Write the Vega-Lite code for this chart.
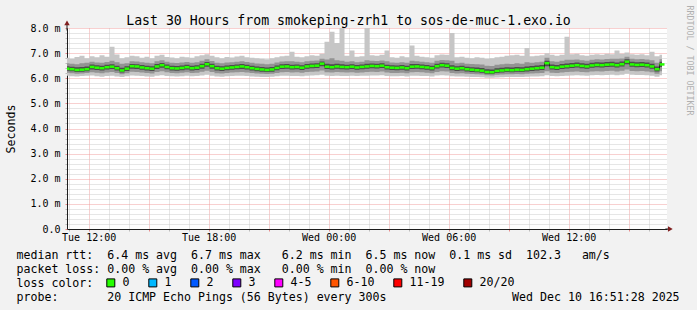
{
"$schema": "https://vega.github.io/schema/vega-lite/v6.json",
"width": 600, "height": 201,
"autosize": {"type": "none"},
"padding": {"left": 67, "top": 28, "right": 30, "bottom": 81},
"background": "#f2f2f2",
"config": {
 "font": "DejaVu Sans Mono",
 "view": {"stroke": null, "fill": "#ffffff"},
 "axis": {"labelFont": "DejaVu Sans Mono", "titleFont": "DejaVu Sans Mono", "labelColor": "#000000", "titleColor": "#000000", "titleFontWeight": "normal"}
},
"data": {"values": [
{"t":"2025-12-09T10:55","m":6.38,"l":6.10,"c":6.22,"a":6.30,"b":6.48,"d":6.60,"h":6.82},
{"t":"2025-12-09T11:10","m":6.36,"l":6.08,"c":6.20,"a":6.28,"b":6.46,"d":6.58,"h":6.78},
{"t":"2025-12-09T11:25","m":6.33,"l":6.07,"c":6.18,"a":6.25,"b":6.44,"d":6.56,"h":6.85},
{"t":"2025-12-09T11:40","m":6.34,"l":6.09,"c":6.19,"a":6.26,"b":6.45,"d":6.60,"h":6.90},
{"t":"2025-12-09T11:55","m":6.36,"l":6.10,"c":6.21,"a":6.28,"b":6.47,"d":6.62,"h":6.80},
{"t":"2025-12-09T12:10","m":6.45,"l":6.11,"c":6.24,"a":6.35,"b":6.55,"d":6.66,"h":6.88},
{"t":"2025-12-09T12:25","m":6.42,"l":6.08,"c":6.22,"a":6.33,"b":6.52,"d":6.63,"h":6.84},
{"t":"2025-12-09T12:40","m":6.40,"l":6.06,"c":6.20,"a":6.31,"b":6.50,"d":6.62,"h":6.92},
{"t":"2025-12-09T12:55","m":6.44,"l":6.09,"c":6.23,"a":6.35,"b":6.54,"d":6.65,"h":6.86},
{"t":"2025-12-09T13:10","m":6.46,"l":6.10,"c":6.25,"a":6.37,"b":6.56,"d":6.70,"h":7.25},
{"t":"2025-12-09T13:25","m":6.40,"l":6.07,"c":6.21,"a":6.31,"b":6.50,"d":6.64,"h":6.95},
{"t":"2025-12-09T13:40","m":6.31,"l":6.05,"c":6.16,"a":6.23,"b":6.42,"d":6.58,"h":6.80},
{"t":"2025-12-09T13:55","m":6.38,"l":6.08,"c":6.20,"a":6.29,"b":6.48,"d":6.60,"h":6.84},
{"t":"2025-12-09T14:10","m":6.48,"l":6.11,"c":6.26,"a":6.38,"b":6.57,"d":6.68,"h":6.90},
{"t":"2025-12-09T14:25","m":6.47,"l":6.10,"c":6.25,"a":6.37,"b":6.56,"d":6.67,"h":6.88},
{"t":"2025-12-09T14:40","m":6.43,"l":6.09,"c":6.23,"a":6.34,"b":6.53,"d":6.64,"h":6.82},
{"t":"2025-12-09T14:55","m":6.40,"l":6.07,"c":6.21,"a":6.31,"b":6.50,"d":6.62,"h":6.86},
{"t":"2025-12-09T15:10","m":6.38,"l":6.06,"c":6.19,"a":6.29,"b":6.48,"d":6.60,"h":6.80},
{"t":"2025-12-09T15:25","m":6.47,"l":6.10,"c":6.25,"a":6.37,"b":6.57,"d":6.68,"h":6.90},
{"t":"2025-12-09T15:40","m":6.52,"l":6.12,"c":6.28,"a":6.42,"b":6.61,"d":6.72,"h":6.94},
{"t":"2025-12-09T15:55","m":6.45,"l":6.09,"c":6.24,"a":6.36,"b":6.55,"d":6.66,"h":6.85},
{"t":"2025-12-09T16:10","m":6.40,"l":6.08,"c":6.21,"a":6.31,"b":6.50,"d":6.62,"h":6.83},
{"t":"2025-12-09T16:25","m":6.39,"l":6.07,"c":6.20,"a":6.30,"b":6.49,"d":6.61,"h":6.80},
{"t":"2025-12-09T16:40","m":6.41,"l":6.08,"c":6.22,"a":6.32,"b":6.51,"d":6.63,"h":6.86},
{"t":"2025-12-09T16:55","m":6.44,"l":6.10,"c":6.24,"a":6.35,"b":6.54,"d":6.65,"h":6.84},
{"t":"2025-12-09T17:10","m":6.40,"l":6.08,"c":6.21,"a":6.31,"b":6.50,"d":6.62,"h":6.82},
{"t":"2025-12-09T17:25","m":6.42,"l":6.09,"c":6.22,"a":6.33,"b":6.52,"d":6.64,"h":6.88},
{"t":"2025-12-09T17:40","m":6.48,"l":6.11,"c":6.26,"a":6.38,"b":6.58,"d":6.70,"h":6.92},
{"t":"2025-12-09T17:55","m":6.56,"l":6.14,"c":6.30,"a":6.46,"b":6.65,"d":6.76,"h":6.96},
{"t":"2025-12-09T18:10","m":6.48,"l":6.10,"c":6.25,"a":6.38,"b":6.58,"d":6.69,"h":6.90},
{"t":"2025-12-09T18:25","m":6.40,"l":6.07,"c":6.20,"a":6.31,"b":6.50,"d":6.62,"h":6.84},
{"t":"2025-12-09T18:40","m":6.38,"l":6.06,"c":6.19,"a":6.29,"b":6.48,"d":6.60,"h":6.80},
{"t":"2025-12-09T18:55","m":6.41,"l":6.08,"c":6.21,"a":6.32,"b":6.51,"d":6.63,"h":6.85},
{"t":"2025-12-09T19:10","m":6.43,"l":6.09,"c":6.23,"a":6.34,"b":6.53,"d":6.64,"h":6.83},
{"t":"2025-12-09T19:25","m":6.45,"l":6.10,"c":6.24,"a":6.36,"b":6.55,"d":6.66,"h":6.87},
{"t":"2025-12-09T19:40","m":6.47,"l":6.10,"c":6.25,"a":6.37,"b":6.57,"d":6.68,"h":6.90},
{"t":"2025-12-09T19:55","m":6.44,"l":6.09,"c":6.23,"a":6.35,"b":6.54,"d":6.65,"h":6.84},
{"t":"2025-12-09T20:10","m":6.40,"l":6.07,"c":6.21,"a":6.31,"b":6.50,"d":6.62,"h":6.82},
{"t":"2025-12-09T20:25","m":6.37,"l":6.06,"c":6.19,"a":6.28,"b":6.47,"d":6.59,"h":6.80},
{"t":"2025-12-09T20:40","m":6.35,"l":6.05,"c":6.18,"a":6.26,"b":6.45,"d":6.58,"h":6.78},
{"t":"2025-12-09T20:55","m":6.33,"l":6.05,"c":6.17,"a":6.25,"b":6.43,"d":6.56,"h":6.76},
{"t":"2025-12-09T21:10","m":6.35,"l":6.06,"c":6.18,"a":6.26,"b":6.45,"d":6.58,"h":6.80},
{"t":"2025-12-09T21:25","m":6.41,"l":6.08,"c":6.21,"a":6.32,"b":6.51,"d":6.63,"h":6.84},
{"t":"2025-12-09T21:40","m":6.46,"l":6.10,"c":6.24,"a":6.37,"b":6.56,"d":6.67,"h":6.88},
{"t":"2025-12-09T21:55","m":6.47,"l":6.10,"c":6.25,"a":6.38,"b":6.57,"d":6.68,"h":6.90},
{"t":"2025-12-09T22:10","m":6.44,"l":6.09,"c":6.23,"a":6.35,"b":6.54,"d":6.68,"h":7.05},
{"t":"2025-12-09T22:25","m":6.45,"l":6.09,"c":6.24,"a":6.36,"b":6.55,"d":6.66,"h":6.86},
{"t":"2025-12-09T22:40","m":6.42,"l":6.08,"c":6.22,"a":6.33,"b":6.52,"d":6.64,"h":6.84},
{"t":"2025-12-09T22:55","m":6.47,"l":6.10,"c":6.25,"a":6.38,"b":6.57,"d":6.68,"h":6.88},
{"t":"2025-12-09T23:10","m":6.49,"l":6.11,"c":6.26,"a":6.40,"b":6.59,"d":6.70,"h":6.92},
{"t":"2025-12-09T23:25","m":6.50,"l":6.12,"c":6.27,"a":6.41,"b":6.60,"d":6.71,"h":6.90},
{"t":"2025-12-09T23:40","m":6.58,"l":6.14,"c":6.31,"a":6.48,"b":6.67,"d":6.78,"h":6.98},
{"t":"2025-12-09T23:55","m":6.46,"l":6.10,"c":6.24,"a":6.37,"b":6.58,"d":6.75,"h":7.45},
{"t":"2025-12-10T00:10","m":6.44,"l":6.09,"c":6.23,"a":6.35,"b":6.56,"d":6.80,"h":7.85},
{"t":"2025-12-10T00:25","m":6.47,"l":6.10,"c":6.25,"a":6.38,"b":6.58,"d":6.72,"h":7.40},
{"t":"2025-12-10T00:40","m":6.45,"l":6.09,"c":6.24,"a":6.36,"b":6.56,"d":6.70,"h":8.20},
{"t":"2025-12-10T00:55","m":6.44,"l":6.09,"c":6.23,"a":6.35,"b":6.54,"d":6.66,"h":6.90},
{"t":"2025-12-10T01:10","m":6.46,"l":6.10,"c":6.24,"a":6.37,"b":6.56,"d":6.68,"h":7.10},
{"t":"2025-12-10T01:25","m":6.43,"l":6.09,"c":6.22,"a":6.34,"b":6.53,"d":6.64,"h":6.86},
{"t":"2025-12-10T01:40","m":6.45,"l":6.10,"c":6.23,"a":6.36,"b":6.55,"d":6.66,"h":6.88},
{"t":"2025-12-10T01:55","m":6.47,"l":6.10,"c":6.25,"a":6.38,"b":6.58,"d":6.72,"h":8.40},
{"t":"2025-12-10T02:10","m":6.49,"l":6.11,"c":6.26,"a":6.40,"b":6.59,"d":6.70,"h":6.92},
{"t":"2025-12-10T02:25","m":6.48,"l":6.11,"c":6.25,"a":6.39,"b":6.58,"d":6.69,"h":6.90},
{"t":"2025-12-10T02:40","m":6.50,"l":6.12,"c":6.27,"a":6.41,"b":6.60,"d":6.71,"h":6.94},
{"t":"2025-12-10T02:55","m":6.44,"l":6.09,"c":6.23,"a":6.35,"b":6.54,"d":6.68,"h":7.10},
{"t":"2025-12-10T03:10","m":6.42,"l":6.08,"c":6.21,"a":6.33,"b":6.52,"d":6.63,"h":6.84},
{"t":"2025-12-10T03:25","m":6.41,"l":6.08,"c":6.21,"a":6.32,"b":6.51,"d":6.62,"h":6.82},
{"t":"2025-12-10T03:40","m":6.43,"l":6.09,"c":6.22,"a":6.34,"b":6.53,"d":6.64,"h":6.88},
{"t":"2025-12-10T03:55","m":6.40,"l":6.07,"c":6.20,"a":6.31,"b":6.50,"d":6.62,"h":6.84},
{"t":"2025-12-10T04:10","m":6.46,"l":6.10,"c":6.24,"a":6.37,"b":6.57,"d":6.70,"h":7.30},
{"t":"2025-12-10T04:25","m":6.47,"l":6.10,"c":6.25,"a":6.38,"b":6.57,"d":6.68,"h":6.90},
{"t":"2025-12-10T04:40","m":6.45,"l":6.09,"c":6.24,"a":6.36,"b":6.55,"d":6.66,"h":6.86},
{"t":"2025-12-10T04:55","m":6.43,"l":6.09,"c":6.22,"a":6.34,"b":6.53,"d":6.64,"h":6.84},
{"t":"2025-12-10T05:10","m":6.40,"l":6.07,"c":6.20,"a":6.31,"b":6.50,"d":6.62,"h":6.82},
{"t":"2025-12-10T05:25","m":6.48,"l":6.11,"c":6.25,"a":6.39,"b":6.58,"d":6.70,"h":6.92},
{"t":"2025-12-10T05:40","m":6.52,"l":6.12,"c":6.28,"a":6.43,"b":6.62,"d":6.73,"h":6.95},
{"t":"2025-12-10T05:55","m":6.50,"l":6.11,"c":6.27,"a":6.41,"b":6.60,"d":6.72,"h":6.94},
{"t":"2025-12-10T06:10","m":6.41,"l":6.08,"c":6.21,"a":6.32,"b":6.52,"d":6.70,"h":7.80},
{"t":"2025-12-10T06:25","m":6.38,"l":6.07,"c":6.19,"a":6.29,"b":6.48,"d":6.60,"h":6.84},
{"t":"2025-12-10T06:40","m":6.40,"l":6.07,"c":6.20,"a":6.31,"b":6.50,"d":6.62,"h":6.86},
{"t":"2025-12-10T06:55","m":6.36,"l":6.06,"c":6.18,"a":6.27,"b":6.46,"d":6.58,"h":6.82},
{"t":"2025-12-10T07:10","m":6.34,"l":6.05,"c":6.17,"a":6.25,"b":6.44,"d":6.57,"h":6.80},
{"t":"2025-12-10T07:25","m":6.32,"l":6.05,"c":6.16,"a":6.24,"b":6.43,"d":6.56,"h":6.84},
{"t":"2025-12-10T07:40","m":6.30,"l":6.04,"c":6.15,"a":6.22,"b":6.41,"d":6.55,"h":6.82},
{"t":"2025-12-10T07:55","m":6.25,"l":6.02,"c":6.12,"a":6.18,"b":6.36,"d":6.50,"h":6.78},
{"t":"2025-12-10T08:10","m":6.24,"l":6.02,"c":6.11,"a":6.17,"b":6.35,"d":6.49,"h":6.80},
{"t":"2025-12-10T08:25","m":6.29,"l":6.03,"c":6.14,"a":6.21,"b":6.40,"d":6.54,"h":6.84},
{"t":"2025-12-10T08:40","m":6.31,"l":6.04,"c":6.15,"a":6.23,"b":6.42,"d":6.56,"h":6.86},
{"t":"2025-12-10T08:55","m":6.33,"l":6.05,"c":6.16,"a":6.25,"b":6.44,"d":6.58,"h":6.90},
{"t":"2025-12-10T09:10","m":6.32,"l":6.05,"c":6.16,"a":6.24,"b":6.43,"d":6.57,"h":6.92},
{"t":"2025-12-10T09:25","m":6.34,"l":6.05,"c":6.17,"a":6.26,"b":6.45,"d":6.60,"h":6.94},
{"t":"2025-12-10T09:40","m":6.33,"l":6.05,"c":6.16,"a":6.25,"b":6.44,"d":6.58,"h":6.90},
{"t":"2025-12-10T09:55","m":6.36,"l":6.06,"c":6.18,"a":6.27,"b":6.47,"d":6.64,"h":7.20},
{"t":"2025-12-10T10:10","m":6.38,"l":6.07,"c":6.19,"a":6.29,"b":6.49,"d":6.62,"h":6.88},
{"t":"2025-12-10T10:25","m":6.40,"l":6.07,"c":6.20,"a":6.31,"b":6.51,"d":6.64,"h":6.90},
{"t":"2025-12-10T10:40","m":6.42,"l":6.08,"c":6.21,"a":6.33,"b":6.53,"d":6.66,"h":6.92},
{"t":"2025-12-10T10:55","m":6.60,"l":6.12,"c":6.28,"a":6.48,"b":6.70,"d":6.82,"h":7.00},
{"t":"2025-12-10T11:10","m":6.44,"l":6.09,"c":6.22,"a":6.35,"b":6.55,"d":6.68,"h":6.94},
{"t":"2025-12-10T11:25","m":6.42,"l":6.08,"c":6.21,"a":6.33,"b":6.53,"d":6.66,"h":6.90},
{"t":"2025-12-10T11:40","m":6.46,"l":6.09,"c":6.23,"a":6.37,"b":6.57,"d":6.70,"h":6.94},
{"t":"2025-12-10T11:55","m":6.48,"l":6.10,"c":6.25,"a":6.39,"b":6.59,"d":6.74,"h":7.65},
{"t":"2025-12-10T12:10","m":6.50,"l":6.11,"c":6.26,"a":6.41,"b":6.61,"d":6.74,"h":6.96},
{"t":"2025-12-10T12:25","m":6.52,"l":6.12,"c":6.27,"a":6.43,"b":6.63,"d":6.75,"h":6.98},
{"t":"2025-12-10T12:40","m":6.49,"l":6.11,"c":6.25,"a":6.40,"b":6.60,"d":6.72,"h":6.92},
{"t":"2025-12-10T12:55","m":6.47,"l":6.10,"c":6.24,"a":6.38,"b":6.58,"d":6.70,"h":6.90},
{"t":"2025-12-10T13:10","m":6.51,"l":6.12,"c":6.27,"a":6.42,"b":6.62,"d":6.74,"h":6.94},
{"t":"2025-12-10T13:25","m":6.53,"l":6.13,"c":6.28,"a":6.44,"b":6.64,"d":6.76,"h":6.96},
{"t":"2025-12-10T13:40","m":6.52,"l":6.12,"c":6.27,"a":6.43,"b":6.63,"d":6.75,"h":6.94},
{"t":"2025-12-10T13:55","m":6.54,"l":6.13,"c":6.29,"a":6.45,"b":6.65,"d":6.77,"h":6.98},
{"t":"2025-12-10T14:10","m":6.55,"l":6.14,"c":6.30,"a":6.46,"b":6.66,"d":6.78,"h":6.96},
{"t":"2025-12-10T14:25","m":6.52,"l":6.12,"c":6.27,"a":6.43,"b":6.63,"d":6.78,"h":7.10},
{"t":"2025-12-10T14:40","m":6.56,"l":6.14,"c":6.30,"a":6.47,"b":6.67,"d":6.79,"h":6.98},
{"t":"2025-12-10T14:55","m":6.66,"l":6.18,"c":6.35,"a":6.56,"b":6.76,"d":6.86,"h":7.02},
{"t":"2025-12-10T15:10","m":6.55,"l":6.14,"c":6.29,"a":6.46,"b":6.66,"d":6.78,"h":6.96},
{"t":"2025-12-10T15:25","m":6.53,"l":6.13,"c":6.28,"a":6.44,"b":6.64,"d":6.76,"h":6.94},
{"t":"2025-12-10T15:40","m":6.54,"l":6.13,"c":6.29,"a":6.45,"b":6.65,"d":6.77,"h":6.96},
{"t":"2025-12-10T15:55","m":6.52,"l":6.12,"c":6.27,"a":6.43,"b":6.63,"d":6.75,"h":6.92},
{"t":"2025-12-10T16:10","m":6.47,"l":6.10,"c":6.24,"a":6.38,"b":6.58,"d":6.72,"h":7.05},
{"t":"2025-12-10T16:25","m":6.36,"l":6.06,"c":6.18,"a":6.27,"b":6.47,"d":6.62,"h":6.88},
{"t":"2025-12-10T16:40","m":6.55,"l":6.12,"c":6.28,"a":6.45,"b":6.66,"d":6.76,"h":6.94}
]},
"resolve": {"axis": {"x": "independent", "y": "independent"}},
"layer": [
 {
  "mark": {"type": "area", "interpolate": "step", "color": "#c6c6c6", "clip": true},
  "encoding": {
   "x": {"field": "t", "type": "temporal",
    "scale": {"domain": [{"year": 2025, "month": 12, "date": 9, "hours": 10, "minutes": 55}, {"year": 2025, "month": 12, "date": 10, "hours": 16, "minutes": 55}]},
    "axis": {
     "values": [
      {"year": 2025, "month": 12, "date": 9, "hours": 11}, {"year": 2025, "month": 12, "date": 9, "hours": 12}, {"year": 2025, "month": 12, "date": 9, "hours": 13},
      {"year": 2025, "month": 12, "date": 9, "hours": 14}, {"year": 2025, "month": 12, "date": 9, "hours": 15}, {"year": 2025, "month": 12, "date": 9, "hours": 16},
      {"year": 2025, "month": 12, "date": 9, "hours": 17}, {"year": 2025, "month": 12, "date": 9, "hours": 18}, {"year": 2025, "month": 12, "date": 9, "hours": 19},
      {"year": 2025, "month": 12, "date": 9, "hours": 20}, {"year": 2025, "month": 12, "date": 9, "hours": 21}, {"year": 2025, "month": 12, "date": 9, "hours": 22},
      {"year": 2025, "month": 12, "date": 9, "hours": 23}, {"year": 2025, "month": 12, "date": 10, "hours": 0}, {"year": 2025, "month": 12, "date": 10, "hours": 1},
      {"year": 2025, "month": 12, "date": 10, "hours": 2}, {"year": 2025, "month": 12, "date": 10, "hours": 3}, {"year": 2025, "month": 12, "date": 10, "hours": 4},
      {"year": 2025, "month": 12, "date": 10, "hours": 5}, {"year": 2025, "month": 12, "date": 10, "hours": 6}, {"year": 2025, "month": 12, "date": 10, "hours": 7},
      {"year": 2025, "month": 12, "date": 10, "hours": 8}, {"year": 2025, "month": 12, "date": 10, "hours": 9}, {"year": 2025, "month": 12, "date": 10, "hours": 10},
      {"year": 2025, "month": 12, "date": 10, "hours": 11}, {"year": 2025, "month": 12, "date": 10, "hours": 12}, {"year": 2025, "month": 12, "date": 10, "hours": 13},
      {"year": 2025, "month": 12, "date": 10, "hours": 14}, {"year": 2025, "month": 12, "date": 10, "hours": 15}, {"year": 2025, "month": 12, "date": 10, "hours": 16}
     ],
     "tickCount": 60,
     "format": "%a %H:%M",
     "labelExpr": "round(datum.index * 29) % 6 == 1 ? datum.label : ''",
     "labelFontSize": 10, "labelPadding": 1,
     "tickSize": 2,
     "tickColor": {"condition": {"test": "round(datum.index * 29) % 3 == 1", "value": "#e88a8a"}, "value": "#bbbbbb"},
     "domainColor": "#1f1f1f",
     "grid": true, "gridDash": [1, 1],
     "gridColor": {"condition": {"test": "round(datum.index * 29) % 3 == 1", "value": "#f0a0a0"}, "value": "#cdcdcd"},
     "title": ["median\u00a0rtt:\u00a0\u00a06.4\u00a0ms\u00a0avg\u00a0\u00a06.7\u00a0ms\u00a0max\u00a0\u00a0\u00a06.2\u00a0ms\u00a0min\u00a0\u00a06.5\u00a0ms\u00a0now\u00a0\u00a00.1\u00a0ms\u00a0sd\u00a0\u00a0102.3\u00a0\u00a0\u00a0am/s",
               "packet\u00a0loss:\u00a00.00\u00a0%\u00a0avg\u00a0\u00a00.00\u00a0%\u00a0max\u00a0\u00a0\u00a00.00\u00a0%\u00a0min\u00a0\u00a00.00\u00a0%\u00a0now",
               "loss\u00a0color:",
               "probe:\u00a0\u00a0\u00a0\u00a0\u00a0\u00a0\u00a020\u00a0ICMP\u00a0Echo\u00a0Pings\u00a0(56\u00a0Bytes)\u00a0every\u00a0300s\u00a0\u00a0\u00a0\u00a0\u00a0\u00a0\u00a0\u00a0\u00a0\u00a0\u00a0\u00a0\u00a0\u00a0\u00a0\u00a0\u00a0\u00a0Wed\u00a0Dec\u00a010\u00a016:51:28\u00a02025"],
     "titleAlign": "left", "titleAnchor": "start", "titleX": -51, "titleY": 29, "titleBaseline": "alphabetic",
     "titleFontSize": 11.6, "titleLineHeight": 14, "titleAngle": 0
    }},
   "y": {"field": "l", "type": "quantitative",
    "scale": {"domain": [0, 8], "nice": false},
    "axis": {
     "values": [0, 0.2, 0.4, 0.6, 0.8, 1, 1.2, 1.4, 1.6, 1.8, 2, 2.2, 2.4, 2.6, 2.8, 3, 3.2, 3.4, 3.6, 3.8, 4, 4.2, 4.4, 4.6, 4.8, 5, 5.2, 5.4, 5.6, 5.8, 6, 6.2, 6.4, 6.6, 6.8, 7, 7.2, 7.4, 7.6, 7.8, 8],
     "tickCount": 60,
     "labelExpr": "abs(datum.value - round(datum.value)) < 0.01 ? (datum.value == 0 ? '0.0' : format(datum.value, '.1f') + ' m') : ''",
     "labelFontSize": 10, "labelPadding": 5, "labelOverlap": false,
     "tickSize": 2,
     "tickColor": {"condition": {"test": "abs(datum.value - round(datum.value)) < 0.01", "value": "#e88a8a"}, "value": "#bbbbbb"},
     "domainColor": "#1f1f1f",
     "grid": true, "gridDash": [1, 1],
     "gridColor": {"condition": {"test": "abs(datum.value - round(datum.value)) < 0.01", "value": "#f0a0a0"}, "value": "#cdcdcd"},
     "title": "Seconds", "titleFontSize": 11.6, "titleX": -56, "titleY": 100.5, "titleAngle": 270,
     "titleAlign": "center", "titleBaseline": "middle"
    }},
   "y2": {"field": "h"}
  }
 },
 {
  "mark": {"type": "area", "interpolate": "step", "color": "#939393", "clip": true},
  "encoding": {
   "x": {"field": "t", "type": "temporal", "axis": null},
   "y": {"field": "c", "type": "quantitative", "axis": null},
   "y2": {"field": "d"}
  }
 },
 {
  "mark": {"type": "area", "interpolate": "step", "color": "#4c4c4c", "clip": true},
  "encoding": {
   "x": {"field": "t", "type": "temporal", "axis": null},
   "y": {"field": "a", "type": "quantitative", "axis": null},
   "y2": {"field": "b"}
  }
 },
 {
  "mark": {"type": "line", "interpolate": "step", "color": "#202020", "strokeWidth": 1, "clip": true},
  "encoding": {
   "x": {"field": "t", "type": "temporal", "axis": null},
   "y": {"field": "m", "type": "quantitative", "axis": null}
  }
 },
 {
  "mark": {"type": "tick", "orient": "horizontal", "size": 5, "thickness": 2.5, "opacity": 1, "clip": true},
  "encoding": {
   "x": {"field": "t", "type": "temporal",
    "axis": {"orient": "top", "domain": false, "ticks": false, "labels": false, "grid": false,
     "title": "Last 30 Hours from smokeping-zrh1 to sos-de-muc-1.exo.io",
     "titleFontSize": 13.2, "titleX": 281, "titleY": -4, "titleAlign": "center", "titleBaseline": "alphabetic", "titleAngle": 0}},
   "y": {"field": "m", "type": "quantitative",
    "axis": {"orient": "right", "domain": false, "ticks": false, "labels": false, "grid": false,
     "title": "RRDTOOL / TOBI OETIKER", "titleFontSize": 8.3, "titleColor": "#b0b0b0", "titleAngle": 90,
     "titleX": 21, "titleY": 32, "titleAlign": "center", "titleBaseline": "middle"}},
   "color": {"datum": "0", "type": "nominal",
    "scale": {"domain": ["0", "1", "2", "3", "4-5", "6-10", "11-19", "20/20"],
              "range": ["#26ff00", "#00b8ff", "#0059ff", "#7e00ff", "#ff00ff", "#ff5500", "#ff0000", "#a10000"]},
    "legend": {"orient": "none", "legendX": 38, "legendY": 249, "direction": "horizontal",
     "title": null,
     "labelFont": "DejaVu Sans Mono", "labelFontSize": 11.6, "labelColor": "#000000", "labelOffset": 6,
     "columnPadding": 16, "rowPadding": 0, "padding": 0,
     "symbolType": "square", "symbolSize": 64, "symbolStrokeColor": "#000000", "symbolStrokeWidth": 1, "symbolOpacity": 1}
   }
  }
 },
 {
  "data": {"values": [{}]},
  "mark": {"type": "rule", "color": "#1f1f1f"},
  "encoding": {
   "x": {"datum": {"year": 2025, "month": 12, "date": 9, "hours": 10, "minutes": 55}, "type": "temporal", "axis": null},
   "y": {"datum": 7.9, "type": "quantitative", "axis": null},
   "y2": {"datum": 8.2}
  }
 },
 {
  "data": {"values": [{}]},
  "mark": {"type": "point", "shape": "triangle-up", "size": 30, "filled": true, "opacity": 1, "color": "#801f1f"},
  "encoding": {
   "x": {"datum": {"year": 2025, "month": 12, "date": 9, "hours": 10, "minutes": 55}, "type": "temporal", "axis": null},
   "y": {"datum": 8.2, "type": "quantitative", "axis": null}
  }
 },
 {
  "data": {"values": [{}]},
  "mark": {"type": "rule", "color": "#1f1f1f"},
  "encoding": {
   "x": {"datum": {"year": 2025, "month": 12, "date": 10, "hours": 16, "minutes": 50}, "type": "temporal", "axis": null},
   "x2": {"datum": {"year": 2025, "month": 12, "date": 10, "hours": 17, "minutes": 3}},
   "y": {"datum": 0, "type": "quantitative", "axis": null}
  }
 },
 {
  "data": {"values": [{}]},
  "mark": {"type": "point", "shape": "triangle-right", "size": 30, "filled": true, "opacity": 1, "color": "#801f1f"},
  "encoding": {
   "x": {"datum": {"year": 2025, "month": 12, "date": 10, "hours": 17, "minutes": 5}, "type": "temporal", "axis": null},
   "y": {"datum": 0, "type": "quantitative", "axis": null}
  }
 }
]
}
